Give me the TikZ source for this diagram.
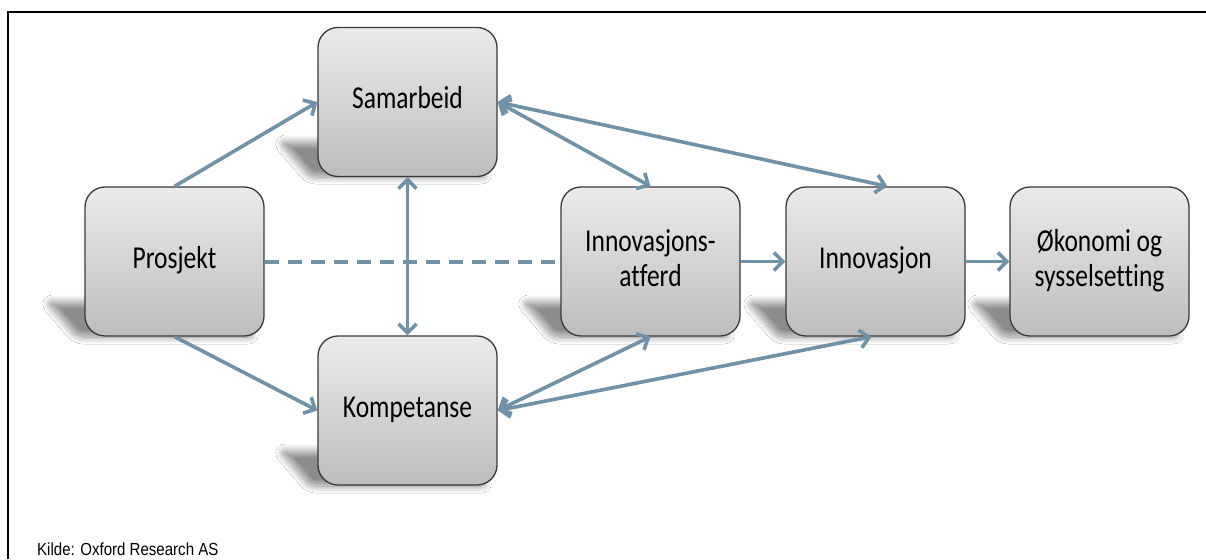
\documentclass[tikz,border=0pt]{standalone}
\usepackage{fontspec}
\setmainfont{Carlito}[Ligatures=NoCommon]
\newfontfamily\kildefont{Liberation Sans}
\usetikzlibrary{arrows.meta,shadows.blur,calc}
\definecolor{arrowc}{HTML}{7092A8}
\definecolor{boxtop}{HTML}{EBEBEB}
\definecolor{boxbot}{HTML}{BDBDBD}
\definecolor{boxline}{HTML}{3A3A3A}
\tikzset{
  stepbox/.style={draw=boxline, line width=1.3pt, rounded corners=20pt,
    top color=boxtop, bottom color=boxbot,
    minimum width=179pt, minimum height=149pt, inner sep=0pt,
    align=center, font=\fontsize{25.5}{28}\selectfont},
  conn/.style={line width=3.6pt, draw=arrowc},
  >={Straight Barb[length=9pt,width=18pt]},
  shadowshape/.style={blur shadow={shadow xshift=0pt, shadow yshift=0pt,
    shadow blur radius=7pt, shadow blur steps=12, shadow opacity=45}}
}
\newcommand{\boxshadow}[4]{% L T R B in image coords
  \path[shadowshape, rounded corners=6pt] (#1-38,#4-34) -- (#3-40,#4-34) -- (#3-10,#4+1) -- (#1-8,#4+1) -- cycle;}
\newcommand{\bt}[1]{\scalebox{1}[1.25]{\begin{tabular}{@{}c@{}}#1\end{tabular}}}
\begin{document}
\begin{tikzpicture}[x=1pt,y=-1pt]
\useasboundingbox (0,0) rectangle (1206,559);
\fill[white] (0,0) rectangle (1206,559);
\draw[line width=1.2pt] (8,559) -- (8,12) -- (1206,12);
% shadows
\boxshadow{85}{187}{264}{336}
\boxshadow{318}{28}{497}{176}
\boxshadow{318}{336}{497}{485}
\boxshadow{561}{187}{740}{336}
\boxshadow{786}{187}{965}{336}
\boxshadow{1010}{187}{1189}{336}
% boxes
\node[stepbox] (P) at (174.5,261.5) {\bt{Prosjekt}};
\node[stepbox] (S) at (407.5,102) {\bt{Samarbeid}};
\node[stepbox] (K) at (407.5,410.5) {\bt{Kompetanse}};
\node[stepbox] (I) at (650.5,261.5) {\bt{Innovasjons-\\atferd}};
\node[stepbox] (N) at (875.5,261.5) {\bt{Innovasjon}};
\node[stepbox] (O) at (1099.5,261.5) {\bt{Økonomi og\\sysselsetting}};
% connectors
\draw[conn,->] (P.north) -- (S.west);
\draw[conn,->] (P.south) -- (K.west);
\draw[conn, line width=4pt, dash pattern=on 14pt off 9pt] (P.east) -- (I.west);
\draw[conn,<->] (S.south) -- (K.north);
\draw[conn,<->] (S.east) -- (I.north);
\draw[conn,<->] (S.east) -- ([xshift=12pt]N.north);
\draw[conn,<->] (K.east) -- (I.south);
\draw[conn,<->] (K.east) -- ([xshift=-4pt]N.south);
\draw[conn,->] (I.east) -- (N.west);
\draw[conn,->] (N.east) -- (O.west);
% source
\node[anchor=base west, inner sep=0pt, xscale=0.86, font=\kildefont\fontsize{17.5}{20}\selectfont] (src) at (37,555) {Kilde: Oxford Research AS};
\end{tikzpicture}
\end{document}
